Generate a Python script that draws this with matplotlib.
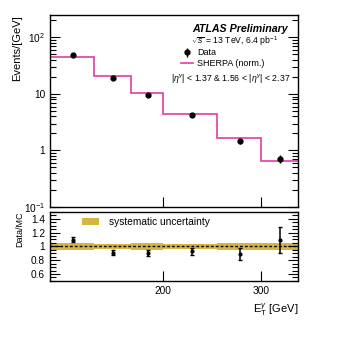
import numpy as np
import matplotlib
matplotlib.use("Agg")
import matplotlib.pyplot as plt
from matplotlib.ticker import FixedLocator, NullLocator, FuncFormatter, MultipleLocator, LogLocator

plt.rcParams['font.family'] = ['Liberation Sans', 'DejaVu Sans']
plt.rcParams['mathtext.fontset'] = 'custom'
plt.rcParams['mathtext.rm'] = 'Liberation Sans'
plt.rcParams['mathtext.it'] = 'Liberation Sans:italic'
plt.rcParams['mathtext.bf'] = 'Liberation Sans:bold'

# bins in photon ET [GeV]
edges = [125, 150, 175, 200, 250, 300, 350]
centers = [137.5, 162.5, 187.5, 225, 275, 325]
sherpa = [45.3, 21.0, 10.6, 4.5, 1.63, 0.66]
data = [49.8, 19.1, 9.55, 4.18, 1.45, 0.72]
rel_err = [0.03, 0.04, 0.05, 0.05, 0.10, 0.17]
syst = [0.045, 0.04, 0.045, 0.04, 0.05, 0.045]

mag = '#e33ca4'
gold = '#d6b53e'

data = np.array(data)
sherpa = np.array(sherpa)
rel_err = np.array(rel_err)
syst = np.array(syst)
ratio = data / sherpa

fig = plt.figure(figsize=(3.49, 3.49), dpi=100)
ax1 = fig.add_axes([0.143, 0.407, 0.711, 0.550])
ax2 = fig.add_axes([0.143, 0.195, 0.711, 0.198])

# top panel
mc = ax1.stairs(sherpa, edges, baseline=None, color=mag, lw=1.2, label='SHERPA (norm.)')
dat = ax1.errorbar(centers, data, yerr=data * rel_err, fmt='o', color='k', ms=3.5,
                   elinewidth=1, capsize=0, label='Data')
ax1.set_xscale('log')
ax1.set_yscale('log')
ax1.set_xlim(125, 350)
ax1.set_ylim(0.1, 250)

def ylog_fmt(v, pos):
    labs = {100: '$10^{2}$', 10: '10', 1: '1', 0.1: '$10^{-1}$'}
    for k in labs:
        if abs(v - k) < 1e-6 * k:
            return labs[k]
    return ''

ax1.yaxis.set_major_locator(LogLocator(base=10))
ax1.yaxis.set_major_formatter(FuncFormatter(ylog_fmt))
ax1.set_ylabel('Events/[GeV]', fontsize=8, loc='top')
ax1.yaxis.set_label_coords(-0.11, 1.0)

ax1.text(0.96, 0.925, 'ATLAS Preliminary', transform=ax1.transAxes, ha='right',
         va='center', fontsize=7.7, fontweight='bold', fontstyle='italic')
ax1.text(0.568, 0.865, r'$\sqrt{s}$ = 13 TeV, 6.4 pb$^{-1}$', transform=ax1.transAxes,
         ha='left', va='center', fontsize=6.2)
ax1.text(0.968, 0.667, r'|$\eta^{\gamma}$| < 1.37 & 1.56 < |$\eta^{\gamma}$| < 2.37',
         transform=ax1.transAxes, ha='right', va='center', fontsize=6.3)
ax1.legend(handles=[dat, mc], loc='upper left', bbox_to_anchor=(0.53, 0.826),
           frameon=False, fontsize=6.5, handlelength=1.3, handletextpad=0.4,
           labelspacing=0.2, borderpad=0, borderaxespad=0)

# ratio panel
band = ax2.stairs(1 + syst, edges, baseline=1 - syst, fill=True, color=gold,
                  lw=0, label='systematic uncertainty')
ax2.axhline(1, color='k', ls=(0, (2, 1.5)), lw=1)
ax2.errorbar(centers, ratio, yerr=ratio * rel_err, fmt='o', color='k', ms=2,
             elinewidth=1.1, capsize=1.5)
ax2.set_xscale('log')
ax2.set_xlim(125, 350)
ax2.set_ylim(0.5, 1.5)
ax2.yaxis.set_major_locator(FixedLocator([0.6, 0.8, 1.0, 1.2, 1.4]))
ax2.yaxis.set_major_formatter(FuncFormatter(lambda v, p: '%g' % v))
ax2.yaxis.set_minor_locator(MultipleLocator(0.05))
ax2.set_ylabel('Data/MC', fontsize=6.5, loc='top')
ax2.yaxis.set_label_coords(-0.105, 1.0)
ax2.set_xlabel(r'E$_{\mathrm{T}}^{\gamma}$ [GeV]', fontsize=8, loc='right')
ax2.legend(handles=[band], loc='center left', bbox_to_anchor=(0.13, 0.85),
           frameon=False, fontsize=7.3, handlelength=1.7, handleheight=0.6,
           handletextpad=0.9, borderpad=0, borderaxespad=0)

for ax in (ax1, ax2):
    ax.xaxis.set_major_locator(FixedLocator([200, 300]))
    ax.xaxis.set_minor_locator(NullLocator())
    ax.xaxis.set_major_formatter(FuncFormatter(lambda v, p: '%d' % v))
    ax.tick_params(which='both', direction='in', right=True, top=False, labelsize=7.3)
    ax.tick_params(which='major', length=7, width=0.8)
    ax.tick_params(which='minor', length=4, width=0.8)
    for s in ax.spines.values():
        s.set_linewidth(1)
ax1.tick_params(labelbottom=False)

fig.savefig('out.png', dpi=100)
